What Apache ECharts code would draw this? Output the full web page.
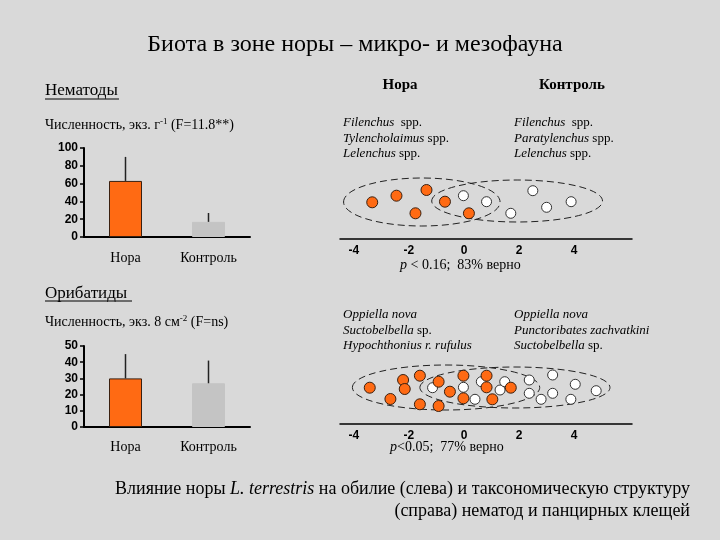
<!DOCTYPE html>
<html><head><meta charset="utf-8">
<script src="https://cdn.jsdelivr.net/npm/echarts@6/dist/echarts.min.js"></script>
<style>html,body{margin:0;padding:0;background:#d9d9d9}#c{width:720px;height:540px}</style>
</head><body><div id="c"></div>
<script>
// ---- data ----
const barCategories = ['Нора', 'Контроль'];
const nemaMeans = [63, 17];
const nemaErr = [27, 10];
const oribMeans = [30, 27];
const oribErr = [15, 14];
const scatterTicks = [-4, -2, 0, 2, 4];
// discriminant scores [x, y]
const nemaBurrowPts = [[-3.33,0.17],[-2.45,0.83],[-1.36,1.4],[-1.76,-0.93],[-0.69,0.23],[0.18,-0.93]];
const nemaControlPts = [[-0.02,0.83],[0.82,0.23],[1.70,-0.93],[2.50,1.33],[3.0,-0.33],[3.89,0.23]];
const oribBurrowPts = [[-3.42,0.13],[-2.67,-1.0],[-2.21,0.9],[-2.15,0.0],[-1.6,1.33],[-1.6,-1.53],[-0.92,0.73],[-0.92,-1.7],[-0.51,-0.27],[-0.02,1.33],[-0.02,-0.93],[0.82,1.33],[0.82,0.17],[1.03,-1.03],[1.70,0.13]];
const oribControlPts = [[-1.14,0.13],[-0.02,0.17],[0.4,-1.03],[0.63,0.73],[1.31,-0.1],[1.48,0.73],[2.37,0.9],[2.37,-0.43],[2.8,-1.03],[3.22,1.4],[3.22,-0.43],[3.88,-1.03],[4.04,0.47],[4.8,-0.17]];
// group ellipses [cx, cy, rx, ry]
const nemaEllipses = [[-1.53,0.2,2.84,2.4],[1.93,0.3,3.1,2.1]];
const oribEllipses = [[-0.65,0.15,3.4,2.25],[1.85,0.15,3.45,2.05]];

const ORANGE = '#ff6a13', GRAY = '#c4c4c4';
const SERIF = '"Liberation Serif", "Times New Roman", serif';
const SANS = '"Liberation Sans", Arial, sans-serif';

function barData(means){
  return means.map((v,i)=>({value:v, itemStyle: i===0
    ? {color:ORANGE, borderColor:'#3a2010', borderWidth:1}
    : {color:GRAY, borderColor:GRAY, borderWidth:1}}));
}
function errData(means, errs){ return means.map((v,i)=>[i, v, errs[i]]); }
function errItem(params, api){
  const a = api.coord([api.value(0), api.value(1)]);
  const b = api.coord([api.value(0), api.value(1)+api.value(2)]);
  return {type:'line', shape:{x1:a[0], y1:a[1], x2:b[0], y2:b[1]}, style:{stroke:'#222', lineWidth:1.5}};
}
function ellipseItem(params, api){
  const c = api.coord([api.value(0), api.value(1)]);
  const s = api.size([api.value(2), api.value(3)]);
  return {type:'ellipse', shape:{cx:c[0], cy:c[1], rx:s[0], ry:s[1]},
    style:{fill:'none', stroke:'#222', lineWidth:1, lineDash:[7,4]}};
}

function barYAxis(grid, max, interval){
  return {gridIndex:grid, type:'value', min:0, max:max, interval:interval,
    axisLine:{show:true, lineStyle:{color:'#000', width:2}},
    axisTick:{show:true, length:4, lineStyle:{color:'#000', width:1.5}},
    splitLine:{show:false},
    axisLabel:{fontFamily:SANS, fontWeight:'bold', fontSize:12, color:'#000', margin:6}};
}
function barXAxis(grid, margin){
  return {gridIndex:grid, type:'category', data:barCategories,
    axisLine:{show:true, lineStyle:{color:'#000', width:2}},
    axisTick:{show:false},
    axisLabel:{fontFamily:SERIF, fontSize:14, color:'#000', margin:margin}};
}
function scatXAxis(grid){
  return {gridIndex:grid, type:'value', min:-4.5, max:6.1,
    axisLine:{show:true, onZero:false, lineStyle:{color:'#000', width:1.5}},
    axisTick:{show:false}, splitLine:{show:false},
    axisLabel:{fontFamily:SANS, fontWeight:'bold', fontSize:12, color:'#000', margin:6,
      formatter: v => scatterTicks.includes(v) ? String(v) : ''}};
}
function scatYAxis(grid){
  return {gridIndex:grid, type:'value', min:-3.5, max:3.5, show:false};
}
function txt(x, y, text, font, align, extra){
  const st = Object.assign({text:text, font:font, fill:'#000',
    textAlign:align||'left', align:align||'left', textVerticalAlign:'middle', verticalAlign:'middle'}, extra||{});
  return {type:'text', x:x, y:y, style:st, silent:true};
}
function mkRich(size){
  return {
    i:{fontFamily:SERIF, fontStyle:'italic', fontSize:size, color:'#000'},
    r:{fontFamily:SERIF, fontSize:size, color:'#000'}
  };
}
function sp(x, y, text, size){ size = size || 13; return txt(x, y, text, size+'px '+SERIF, 'left', {rich:mkRich(size)}); }
const supRich = {
  n:{fontFamily:SERIF, fontSize:14, color:'#000'},
  s:{fontFamily:SERIF, fontSize:9, color:'#000', padding:[0,0,7,0]}
};

const chart = echarts.init(document.getElementById('c'), null, {renderer:'canvas'});
chart.setOption({
  backgroundColor:'#d9d9d9',
  animation:false,
  grid:[
    {left:84, top:148, width:166, height:89},
    {left:84, top:346, width:166, height:81},
    {left:340, top:169, width:292, height:70},
    {left:340, top:354, width:292, height:70}
  ],
  xAxis:[barXAxis(0,14), barXAxis(1,13), scatXAxis(2), scatXAxis(3)],
  yAxis:[barYAxis(0,100,20), barYAxis(1,50,10), scatYAxis(2), scatYAxis(3)],
  series:[
    {type:'bar', xAxisIndex:0, yAxisIndex:0, barWidth:33, data:barData(nemaMeans)},
    {type:'custom', xAxisIndex:0, yAxisIndex:0, z:5, renderItem:errItem, data:errData(nemaMeans, nemaErr)},
    {type:'bar', xAxisIndex:1, yAxisIndex:1, barWidth:33, data:barData(oribMeans)},
    {type:'custom', xAxisIndex:1, yAxisIndex:1, z:5, renderItem:errItem, data:errData(oribMeans, oribErr)},
    {type:'custom', xAxisIndex:2, yAxisIndex:2, renderItem:ellipseItem, data:nemaEllipses, encode:{x:0,y:1}},
    {type:'custom', xAxisIndex:3, yAxisIndex:3, renderItem:ellipseItem, data:oribEllipses, encode:{x:0,y:1}},
    {type:'scatter', xAxisIndex:2, yAxisIndex:2, symbolSize:10, z:4, data:nemaControlPts,
      itemStyle:{color:'#fff', borderColor:'#333', borderWidth:1, opacity:1}},
    {type:'scatter', xAxisIndex:2, yAxisIndex:2, symbolSize:11, z:5, data:nemaBurrowPts,
      itemStyle:{color:ORANGE, borderColor:'#3a2010', borderWidth:1, opacity:1}},
    {type:'scatter', xAxisIndex:3, yAxisIndex:3, symbolSize:10, z:4, data:oribControlPts,
      itemStyle:{color:'#fff', borderColor:'#333', borderWidth:1, opacity:1}},
    {type:'scatter', xAxisIndex:3, yAxisIndex:3, symbolSize:11, z:5, data:oribBurrowPts,
      itemStyle:{color:ORANGE, borderColor:'#3a2010', borderWidth:1, opacity:1}}
  ],
  graphic:[
    txt(355, 45, 'Биота в зоне норы – микро- и мезофауна', '24px '+SERIF, 'center'),
    txt(45, 91, 'Нематоды', '17px '+SERIF, 'left'),
    {type:'line', shape:{x1:45, y1:99, x2:119, y2:99}, style:{stroke:'#000', lineWidth:1}, silent:true},
    txt(45, 125, '{n|Численность, экз. г}{s|-1}{n| (F=11.8**)}', '14px '+SERIF, 'left', {rich:supRich}),
    txt(45, 294, 'Орибатиды', '17px '+SERIF, 'left'),
    {type:'line', shape:{x1:45, y1:301, x2:132, y2:301}, style:{stroke:'#000', lineWidth:1}, silent:true},
    txt(45, 322, '{n|Численность, экз. 8 см}{s|-2}{n| (F=ns)}', '14px '+SERIF, 'left', {rich:supRich}),
    txt(400, 85, 'Нора', 'bold 15px '+SERIF, 'center'),
    txt(572, 85, 'Контроль', 'bold 15px '+SERIF, 'center'),
    sp(343, 123, '{i|Filenchus}{r|  spp.}'),
    sp(343, 139, '{i|Tylencholaimus}{r| spp.}'),
    sp(343, 154, '{i|Lelenchus}{r| spp.}'),
    sp(514, 123, '{i|Filenchus}{r|  spp.}'),
    sp(514, 139, '{i|Paratylenchus}{r| spp.}'),
    sp(514, 154, '{i|Lelenchus}{r| spp.}'),
    sp(343, 315, '{i|Oppiella nova}'),
    sp(343, 331, '{i|Suctobelbella}{r| sp.}'),
    sp(343, 346, '{i|Hypochthonius r. rufulus}'),
    sp(514, 315, '{i|Oppiella nova}'),
    sp(514, 331, '{i|Punctoribates zachvatkini}'),
    sp(514, 346, '{i|Suctobelbella}{r| sp.}'),
    sp(400, 265, '{i|p}{r| < 0.16;  83% верно}', 14),
    sp(390, 447, '{i|p}{r|<0.05;  77% верно}', 14),
    txt(690, 489, 'Влияние норы {i|L. terrestris} на обилие (слева) и таксономическую структуру', '18px '+SERIF, 'right',
      {rich:{i:{fontFamily:SERIF, fontStyle:'italic', fontSize:18, color:'#000'}}}),
    txt(690, 511, '(справа) нематод и панцирных клещей', '18px '+SERIF, 'right')
  ]
});
</script></body></html>
